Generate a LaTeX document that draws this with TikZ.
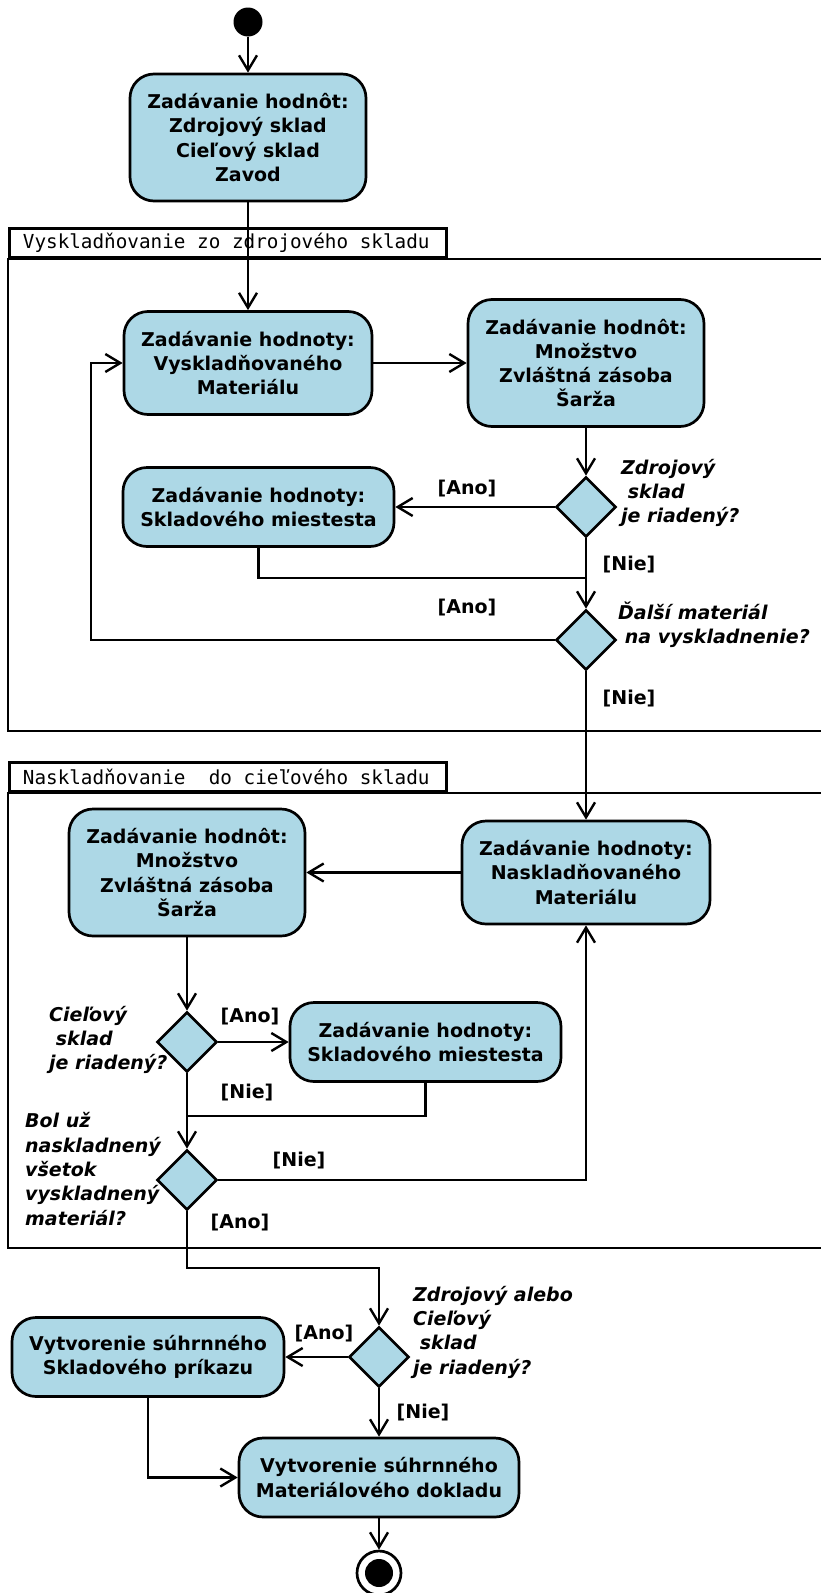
\documentclass[tikz,border=0pt]{standalone}
\usepackage{fontspec}
\setmainfont{DejaVu Sans}
\setmonofont{DejaVu Sans Mono}
\usetikzlibrary{arrows.meta,shapes.geometric}
\definecolor{actblue}{HTML}{ADD8E6}

\begin{document}
\begin{tikzpicture}
  [
    x=1pt,
    y=-1pt,
    font=\fontsize{19}{24.2}\selectfont\bfseries,
    act/.style={
      draw,
      fill=actblue,
      line width=2.7pt,
      rounded corners=24pt,
      align=center,
      inner sep=0pt
    },
    tall/.style={
      act,
      minimum width=236pt,
      minimum height=127pt
    },
    mid/.style={
      act,
      minimum width=248pt,
      minimum height=103pt
    },
    flat/.style={
      act,
      minimum width=271pt,
      minimum height=79pt
    },
    choice/.style={
      diamond,
      draw,
      fill=actblue,
      line width=2.7pt,
      aspect=1,
      inner sep=0pt,
      minimum width=60pt,
      minimum height=60pt
    },
    start/.style={
      circle,
      fill=black,
      inner sep=0pt,
      minimum size=29pt
    },
    stop/.style={
      circle,
      draw,
      fill=white,
      line width=2.7pt,
      inner sep=0pt,
      minimum size=44pt
    },
    tab/.style={
      draw,
      fill=white,
      line width=2.8pt,
      anchor=south west,
      font=\fontsize{19.3}{24}\selectfont\ttfamily\mdseries,
      text width=410pt,
      inner xsep=13.5pt,
      inner ysep=0pt,
      minimum height=29pt,
      align=flush left
    },
    frame/.style={
      line width=2.8pt
    },
    line/.style={
      line width=2.4pt
    },
    flow/.style={
      line,
      -{Straight Barb[length=15pt,width=18pt]}
    },
    guard/.style={
      inner sep=0pt
    },
    quest/.style={
      font=\fontsize{19}{24.3}\selectfont\bfseries\itshape,
      align=left,
      anchor=west,
      inner sep=0pt
    }
  ]

  \useasboundingbox (0,0) rectangle (820,1593);

  \draw [frame] (822,259) -- (8,259) -- (8,731) -- (822,731);
  \node [tab] (tabout) at (8,259) {Vyskladňovanie zo zdrojového skladu};

  \draw [frame] (822,793) -- (8,793) -- (8,1248) -- (822,1248);
  \node [tab] (tabin) at (8,793) {Naskladňovanie\ \ do cieľového skladu};

  \node [start] (s) at (248,22) {};
  \node [tall] (inp) at (248,137.5) {Zadávanie hodnôt:\\ Zdrojový sklad\\ Cieľový sklad\\ Zavod};

  \node [mid] (outmat) at (248,363) {Zadávanie hodnoty:\\ Vyskladňovaného\\ Materiálu};
  \node [tall] (outqty) at (586,363) {Zadávanie hodnôt:\\ Množstvo\\ Zvláštná zásoba\\ Šarža};
  \node [choice] (outwm) at (586,507) {};
  \node [flat] (outbin) at (258.5,507) {Zadávanie hodnoty:\\ Skladového miestesta};
  \node [choice] (outmore) at (586,640) {};
  \coordinate (outjoin) at (586,578);
  \coordinate (loop) at (91,500);

  \node [mid] (inmat) at (586,872.5) {Zadávanie hodnoty:\\ Naskladňovaného\\ Materiálu};
  \node [tall] (inqty) at (187,872.5) {Zadávanie hodnôt:\\ Množstvo\\ Zvláštná zásoba\\ Šarža};
  \node [choice] (inwm) at (187,1042) {};
  \node [flat] (inbin) at (425.5,1042) {Zadávanie hodnoty:\\ Skladového miestesta};
  \node [choice] (indone) at (187,1180) {};
  \coordinate (injoin) at (187,1116);
  \coordinate (bend) at (379,1268);

  \node [choice] (wm) at (379,1357) {};
  \node [flat, minimum width=272pt] (order) at (148,1357) {Vytvorenie súhrnného\\ Skladového príkazu};
  \node [flat, minimum width=280pt] (doc) at (379,1477.5) {Vytvorenie súhrnného\\ Materiálového dokladu};
  \node [stop] (e) at (379,1573) {};
  \fill (e) circle (14);

  \draw [flow] (s) -- (inp);
  \draw [flow] (inp) -- (outmat);
  \draw [flow] (outmat) -- (outqty);
  \draw [flow] (outqty) -- (outwm);
  \draw [flow] (outwm) -- (outbin);
  \draw [line] (outbin) |- (outjoin);
  \draw [flow] (outwm) -- (outmore);
  \draw [flow] (outmore.west) -| (loop) |- (outmat.west);
  \draw [flow] (outmore) -- (inmat);

  \draw [flow] (inmat) -- (inqty);
  \draw [flow] (inqty) -- (inwm);
  \draw [flow] (inwm) -- (inbin);
  \draw [line] (inbin) |- (injoin);
  \draw [flow] (inwm) -- (indone);
  \draw [flow] (indone) -| (inmat);
  \draw [flow] (indone) |- (bend) -- (wm);

  \draw [flow] (wm) -- (order);
  \draw [flow] (wm) -- (doc);
  \draw [flow] (order) |- (doc);
  \draw [flow] (doc) -- (e);

  \node [guard] (g1) at (467,489) {[Ano]};
  \node [guard] (g2) at (629,565) {[Nie]};
  \node [guard] (g3) at (467,608) {[Ano]};
  \node [guard] (g4) at (629,699) {[Nie]};
  \node [guard] (g5) at (250,1017) {[Ano]};
  \node [guard] (g6) at (247,1093) {[Nie]};
  \node [guard] (g7) at (299,1161) {[Nie]};
  \node [guard] (g8) at (240,1223) {[Ano]};
  \node [guard] (g9) at (324,1334) {[Ano]};
  \node [guard] (g10) at (423,1413) {[Nie]};

  \node [quest] (q1) at (621,493) {Zdrojový\\ \mbox{ }sklad\\ je riadený?};
  \node [quest] (q2) at (618,625) {Ďalší materiál\\ \mbox{ }na vyskladnenie?};
  \node [quest] (q3) at (49,1040) {Cieľový\\ \mbox{ }sklad\\ je riadený?};
  \node [quest] (q4) at (25,1169) {Bol už\\ naskladnený\\ všetok\\ vyskladnený\\ materiál?};
  \node [quest] (q5) at (413,1332) {Zdrojový alebo\\ Cieľový\\ \mbox{ }sklad\\ je riadený?};

\end{tikzpicture}
\end{document}
